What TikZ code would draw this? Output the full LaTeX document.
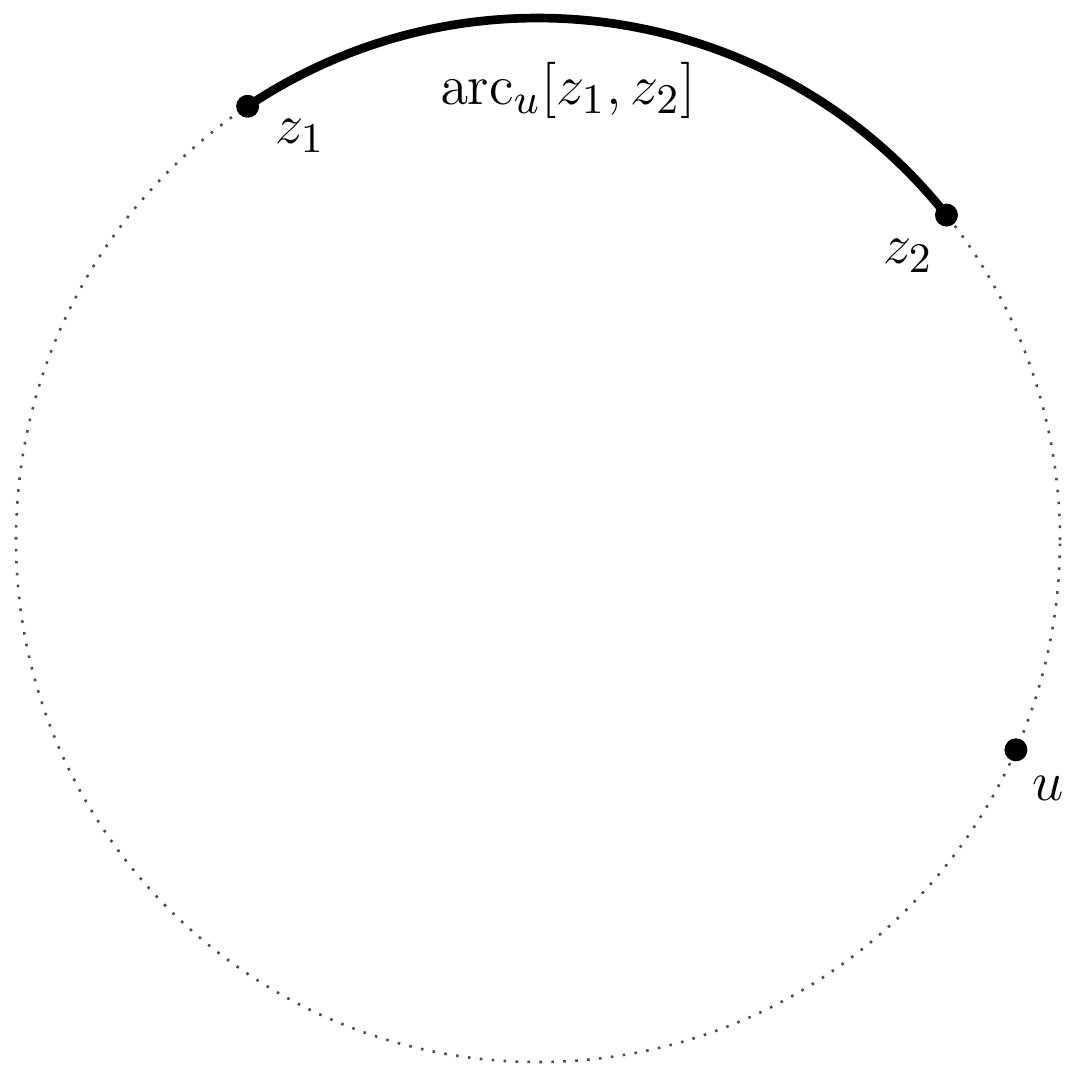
\documentclass[tikz,border=0pt]{standalone}
\begin{document}
\begin{tikzpicture}
\tikzset{
  pt/.style={circle,fill=black,inner sep=0pt,minimum size=4.9pt},
  lbl/.style={inner sep=0pt,font=\fontsize{12.5}{15}\selectfont},
  circ/.style={dotted,line width=0.55pt,black!70},
  arcline/.style={line width=1.85pt}
}
\useasboundingbox (-4.035,-3.96) rectangle (3.96,4.05);
\def\R{3.915}
\coordinate (c) at (0,0);
\draw[circ] (c) circle[radius=\R cm];
\node[pt] (z1) at (123.8:\R) {};
\node[pt] (z2) at (38.5:\R) {};
\node[pt] (u) at (-23.7:\R) {};
\draw[arcline] (z1.center) arc[start angle=123.8,end angle=38.5,radius=\R cm];
\node[lbl] (lz1) at (-1.785,3.03) {$z_1$};
\node[lbl] (lz2) at (2.775,2.13) {$z_2$};
\node[lbl] (lu) at (3.83,-1.86) {$u$};
\node[lbl] (larc) at (0.225,3.37) {$\mathrm{arc}_u[z_1,z_2]$};
\end{tikzpicture}
\end{document}
